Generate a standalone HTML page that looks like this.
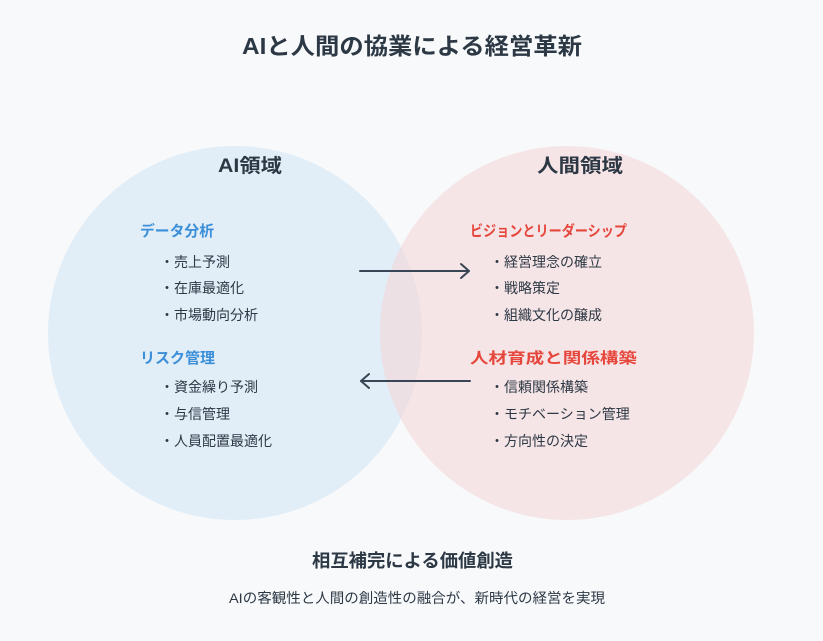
<!DOCTYPE html>
<html><head><meta charset="utf-8"><style>
html,body{margin:0;padding:0;background:#f7f9fb;}
svg text{font-family:"Liberation Sans","Noto Sans CJK JP",sans-serif;}
</style></head><body>
<svg width="823" height="636" viewBox="0 0 823 636" xmlns="http://www.w3.org/2000/svg">
<rect width="823" height="636" fill="#f7f9fb"/>
<text x="242" y="54" font-size="23" font-weight="bold" fill="#2d3845" textLength="340" lengthAdjust="spacingAndGlyphs">AIと人間の協業による経営革新</text>
<circle cx="235" cy="333" r="187" fill="#d6e6f5" opacity="0.65"/>
<circle cx="567" cy="333" r="187" fill="#f5d6d6" opacity="0.55"/>
<text x="218" y="172" font-size="19" font-weight="bold" fill="#2d3845" textLength="64" lengthAdjust="spacingAndGlyphs">AI領域</text>
<text x="537" y="172" font-size="19" font-weight="bold" fill="#2d3845" textLength="86" lengthAdjust="spacingAndGlyphs">人間領域</text>
<g font-size="15" font-weight="bold" fill="#3b8fd9">
<text x="140" y="236" textLength="74" lengthAdjust="spacingAndGlyphs">データ分析</text>
<text x="140" y="363" textLength="75" lengthAdjust="spacingAndGlyphs">リスク管理</text>
</g>
<g font-size="15" font-weight="bold" fill="#e5473d">
<text x="470" y="236" textLength="157" lengthAdjust="spacingAndGlyphs">ビジョンとリーダーシップ</text>
<text x="470" y="363" textLength="167" lengthAdjust="spacingAndGlyphs">人材育成と関係構築</text>
</g>
<g font-size="14" fill="#2d3845">
<text x="160" y="267">・売上予測</text>
<text x="160" y="293">・在庫最適化</text>
<text x="160" y="320">・市場動向分析</text>
<text x="160" y="392">・資金繰り予測</text>
<text x="160" y="419">・与信管理</text>
<text x="160" y="446">・人員配置最適化</text>
<text x="490" y="267">・経営理念の確立</text>
<text x="490" y="293">・戦略策定</text>
<text x="490" y="320">・組織文化の醸成</text>
<text x="490" y="392">・信頼関係構築</text>
<text x="490" y="419">・モチベーション管理</text>
<text x="490" y="446">・方向性の決定</text>
</g>
<g stroke="#374555" stroke-width="2" fill="none" stroke-linecap="round" stroke-linejoin="round">
<line x1="360" y1="271" x2="469" y2="271"/>
<polyline points="461,264 469,271 461,278"/>
<line x1="470" y1="381" x2="361" y2="381"/>
<polyline points="369,374 361,381 369,388"/>
</g>
<text x="312" y="567" font-size="18" font-weight="bold" fill="#2d3845" textLength="201" lengthAdjust="spacingAndGlyphs">相互補完による価値創造</text>
<text x="229" y="603" font-size="14" fill="#2d3845" textLength="376" lengthAdjust="spacingAndGlyphs">AIの客観性と人間の創造性の融合が、新時代の経営を実現</text>
</svg>
</body></html>
